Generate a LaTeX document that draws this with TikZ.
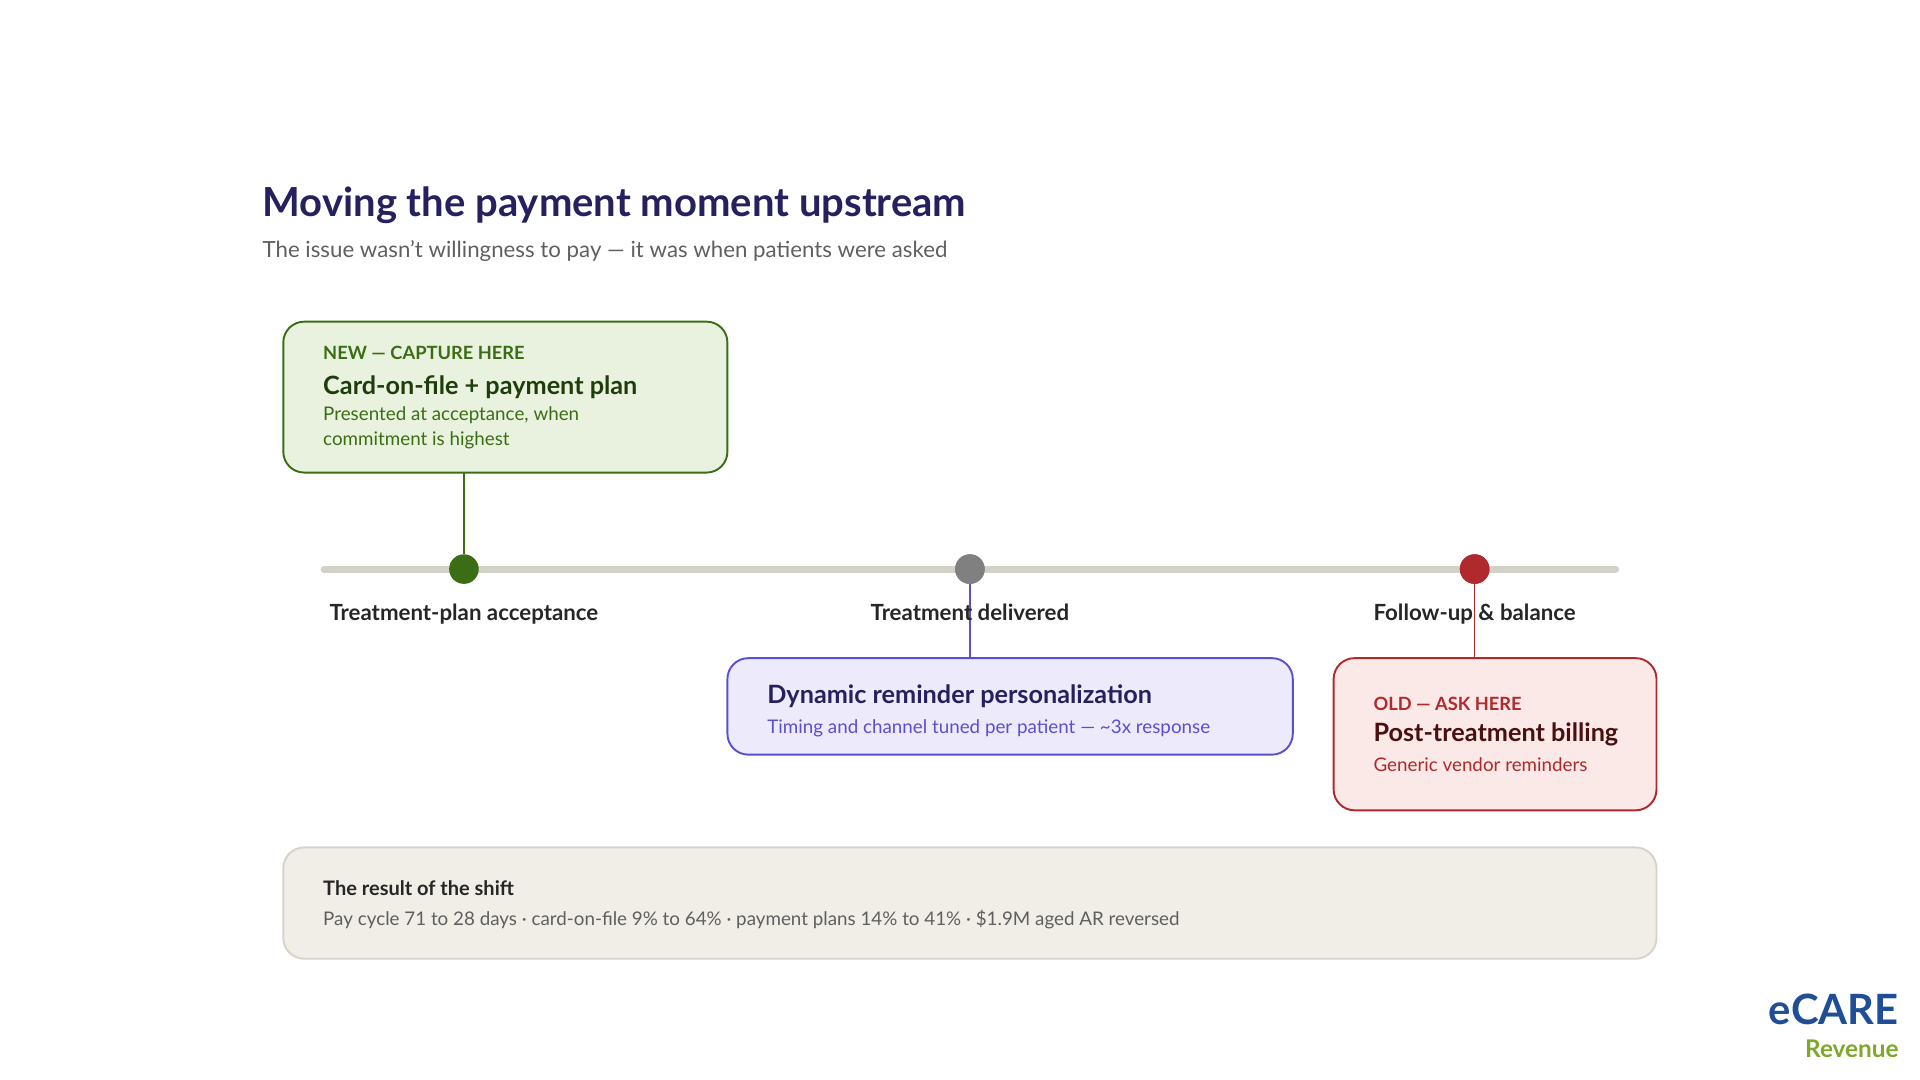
\documentclass[tikz,border=0pt]{standalone}
\usepackage{fontspec}
\setmainfont{Lato}
\usetikzlibrary{positioning}
\definecolor{navy}{HTML}{25215E}
\definecolor{greyt}{HTML}{5F5F5F}
\definecolor{gdark}{HTML}{3B6E14}
\definecolor{gfill}{HTML}{E9F2DF}
\definecolor{gtext}{HTML}{1F3D0C}
\definecolor{bline}{HTML}{5A4FCF}
\definecolor{bfill}{HTML}{EDEBFB}
\definecolor{rline}{HTML}{B0292C}
\definecolor{rfill}{HTML}{FBE9E8}
\definecolor{rtext}{HTML}{4A0F10}
\definecolor{track}{HTML}{D3D0C8}
\definecolor{sfill}{HTML}{F1EEE8}
\definecolor{sline}{HTML}{D6D3CA}
\definecolor{logob}{HTML}{1F4E96}
\definecolor{logog}{HTML}{7FA82B}
\tikzset{
  card/.style={draw, line width=1.1pt, rounded corners=12pt},
  txt/.style={anchor=west, inner sep=0pt},
  dot/.style={circle, minimum size=17pt, inner sep=0pt},
  stop/.style={font=\fontsize{12.8}{15}\selectfont\bfseries, text=black!85, text height=9pt, text depth=3pt},
}
\begin{document}
\begin{tikzpicture}[x=0.025cm, y=-0.025cm]
\useasboundingbox (0,0) rectangle (1552,873);
% heading
\node[txt, text=navy, font=\fontsize{23}{27}\selectfont\bfseries] (title) at (212,166) {Moving the payment moment upstream};
\node[txt, text=greyt, font=\fontsize{12.8}{15}\selectfont] (sub) at (212,203) {The issue wasn't willingness to pay — it was when patients were asked};
% boxes
\draw[card, draw=gdark, fill=gfill] (229,260) rectangle (588,382);
\coordinate (newbot) at (375,382);
\node[txt, text=gdark, font=\fontsize{10.5}{12}\selectfont\bfseries] at (261,285) {NEW — CAPTURE HERE};
\node[txt, text=gtext, font=\fontsize{14.5}{17}\selectfont\bfseries] at (261,313) {Card-on-file + payment plan};
\node[txt, text=gdark, font=\fontsize{10.8}{13}\selectfont] at (261,336) {Presented at acceptance, when};
\node[txt, text=gdark, font=\fontsize{10.8}{13}\selectfont] at (261,356) {commitment is highest};
\draw[card, draw=bline, fill=bfill] (588,532) rectangle (1045,610);
\node[txt, text=navy, font=\fontsize{14.5}{17}\selectfont\bfseries] at (620,563) {Dynamic reminder personalization};
\node[txt, text=bline, font=\fontsize{10.8}{13}\selectfont] at (620,589) {Timing and channel tuned per patient — \textasciitilde3x response};
\draw[card, draw=rline, fill=rfill] (1078,532) rectangle (1339,655);
\node[txt, text=rline, font=\fontsize{10.5}{12}\selectfont\bfseries] at (1110,569) {OLD — ASK HERE};
\node[txt, text=rtext, font=\fontsize{14.5}{17}\selectfont\bfseries] at (1110,594) {Post-treatment billing};
\node[txt, text=rline, font=\fontsize{10.8}{13}\selectfont] at (1110,618) {Generic vendor reminders};
% timeline
\draw[track, line width=4pt, line cap=round] (262,460) -- (1306,460);
\node[dot, fill=gdark] (d1) at (375,460) {};
\node[dot, fill=gray] (d2) at (784,460) {};
\node[dot, fill=rline] (d3) at (1192,460) {};
\coordinate (bluetop) at (784,532);
\coordinate (redtop) at (1192,532);
\draw[gdark, line width=0.9pt] (newbot) -- (d1.north);
\draw[bline, line width=0.9pt] (d2.center) -- (bluetop);
\draw[rline, line width=0.9pt] (d3.center) -- (redtop);
\node[dot, fill=gray] at (d2) {};
\node[dot, fill=rline] at (d3) {};
\node[stop] at (375,497) {Treatment-plan acceptance};
\node[stop] at (784,497) {Treatment delivered};
\node[stop] at (1192,497) {Follow-up \& balance};
% summary
\draw[card, draw=sline, fill=sfill] (229,685) rectangle (1339,775);
\node[txt, text=black!85, font=\fontsize{11.5}{14}\selectfont\bfseries] at (261,718) {The result of the shift};
\node[txt, text=greyt, font=\fontsize{10.8}{13}\selectfont] at (261,743) {Pay cycle 71 to 28 days · card-on-file 9\% to 64\% · payment plans 14\% to 41\% · \$1.9M aged AR reversed};
% logo
\node[anchor=east, inner sep=0pt, text=logob, font=\fontsize{24}{28}\selectfont\bfseries] (logo) at (1535,816) {eCARE};
\node[inner sep=0pt, text=logog, font=\fontsize{14}{17}\selectfont\bfseries, below left=8pt and 0pt of logo.south east] {Revenue};
\end{tikzpicture}
\end{document}
